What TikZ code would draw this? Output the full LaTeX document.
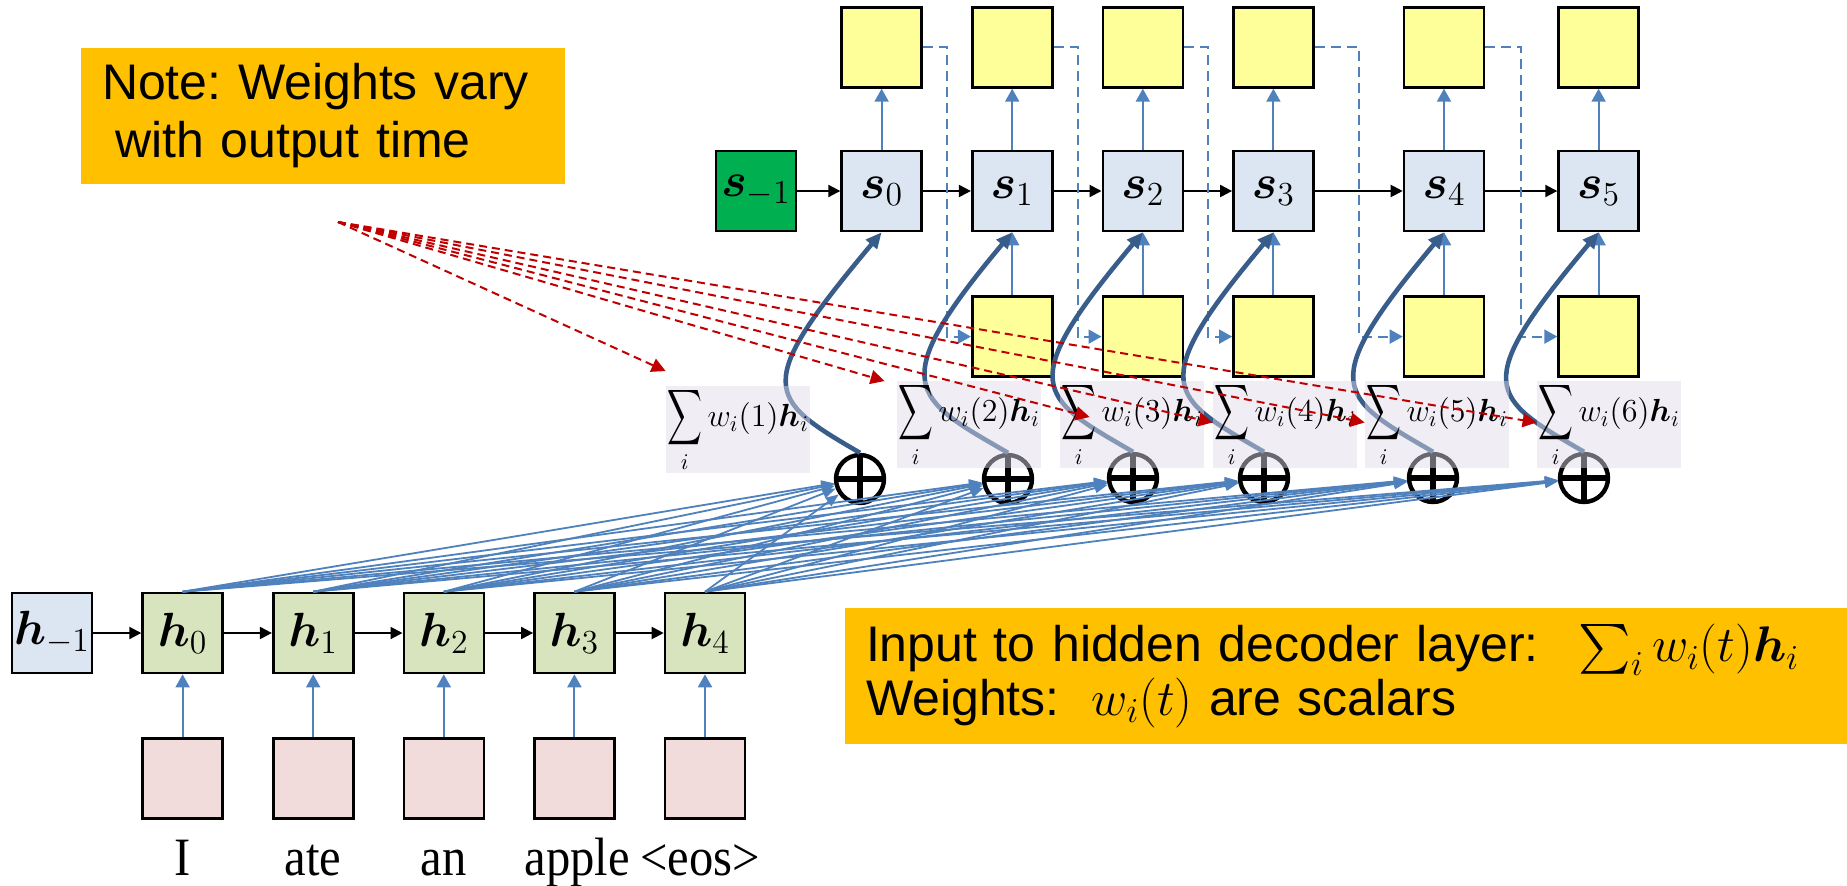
\RequirePackage{fix-cm}
\documentclass[tikz,border=0pt]{standalone}
\usepackage[no-math]{fontspec}
\setmainfont{Liberation Serif}
\newfontfamily\notefont{Liberation Sans}
\newfontfamily\wordfont[FakeStretch=0.9]{Liberation Serif}
\usepackage{amsmath}
\usepackage{tikz}
\usetikzlibrary{arrows.meta, positioning, calc}
\frenchspacing
\definecolor{stateblue}{RGB}{220,230,242}
\definecolor{initgreen}{RGB}{0,176,80}
\definecolor{hiddengreen}{RGB}{215,228,189}
\definecolor{embedpink}{RGB}{242,220,219}
\definecolor{outyellow}{RGB}{255,255,153}
\definecolor{notegold}{RGB}{255,192,0}
\definecolor{linkblue}{RGB}{79,129,189}
\definecolor{curveblue}{RGB}{56,93,138}
\definecolor{weightred}{RGB}{192,0,0}
\definecolor{sumgray}{RGB}{223,219,232}
\newcommand{\wsum}[1]{%
  \mathop{\scalebox{0.7}[1.12]{$\displaystyle\sum$}}\limits_i w_i(#1)\boldsymbol{h}_i}
\tikzset{
  cell/.style={
    rectangle, draw=black, line width=1.3pt,
    minimum width=40pt, minimum height=40pt, inner sep=0pt,
    font=\fontsize{24}{28}\selectfont
  },
  state/.style={cell, fill=stateblue},
  initstate/.style={cell, fill=initgreen},
  hidden/.style={cell, fill=hiddengreen},
  embed/.style={cell, fill=embedpink},
  outbox/.style={cell, fill=outyellow},
  word/.style={anchor=base, font=\wordfont\fontsize{27}{29}\selectfont},
  note/.style={
    rectangle, fill=notegold, inner xsep=10.5pt,
    minimum height=68pt, align=left,
    font=\notefont\fontsize{25}{29}\selectfont
  },
  weighted/.style={
    rectangle, fill=sumgray, fill opacity=0.47, text opacity=1,
    minimum width=72pt, minimum height=41.5pt, inner xsep=0pt, inner ysep=0pt,
    font=\fontsize{16}{18}\selectfont
  },
  oplus/.style={
    circle, draw=black, fill=white, line width=2.2pt,
    minimum size=24pt, inner sep=0pt,
    path picture={
      \draw[line width=2.6pt]
        (path picture bounding box.north) -- (path picture bounding box.south)
        (path picture bounding box.west) -- (path picture bounding box.east);
    }
  },
  arrow/.style={line width=1pt, -{Triangle[length=6pt, width=6pt]}, color=black},
  uparrow/.style={line width=1pt, -{Triangle[length=6.5pt, width=7pt]}, color=linkblue},
  fan/.style={line width=0.9pt, -{Triangle[length=6.5pt, width=5pt]}, color=linkblue},
  attn/.style={line width=2.3pt, -{Triangle[length=8pt, width=7pt]}, color=curveblue},
  feedback/.style={
    line width=1pt, dash pattern=on 5pt off 3pt,
    -{Triangle[length=6.5pt, width=7pt]}, color=linkblue
  },
  weight/.style={
    line width=1pt, dash pattern=on 4pt off 2.5pt,
    -{Triangle[length=7pt, width=7pt]}, color=weightred
  },
}

\begin{document}
\begin{tikzpicture}[x=0.5pt, y=-0.5pt]
  \useasboundingbox (0,0) rectangle (1847,885);

  \node (note) [note, minimum width=242pt, text width=221pt] at (323,116)
    {Note: Weights vary\\\hspace*{6.5pt}with output time};
  \node (info) [note, minimum width=501pt, text width=480pt,
    font=\notefont\fontsize{25}{25}\selectfont] at (1346,676)
    {Input to hidden decoder layer:\hspace{20pt}$\sum_i w_i(t)\boldsymbol{h}_i$\\
     Weights:\hspace{16pt}$w_i(t)$ are scalars};

  \node (sm1) [initstate] at (756,191) {$\boldsymbol{s}_{-1}$};
  \node (s0)  [state, right=21.5pt of sm1] {$\boldsymbol{s}_0$};
  \node (s1)  [state, right=24pt of s0]    {$\boldsymbol{s}_1$};
  \node (s2)  [state, right=24pt of s1]    {$\boldsymbol{s}_2$};
  \node (s3)  [state, right=24pt of s2]    {$\boldsymbol{s}_3$};
  \node (s4)  [state, right=44pt of s3]    {$\boldsymbol{s}_4$};
  \node (s5)  [state, right=36pt of s4]    {$\boldsymbol{s}_5$};

  \node (y0) [outbox, above=30.5pt of s0] {};
  \node (y1) [outbox, above=30.5pt of s1] {};
  \node (y2) [outbox, above=30.5pt of s2] {};
  \node (y3) [outbox, above=30.5pt of s3] {};
  \node (y4) [outbox, above=30.5pt of s4] {};
  \node (y5) [outbox, above=30.5pt of s5] {};

  \node (x1) [outbox, below=31.5pt of s1] {};
  \node (x2) [outbox, below=31.5pt of s2] {};
  \node (x3) [outbox, below=31.5pt of s3] {};
  \node (x4) [outbox, below=31.5pt of s4] {};
  \node (x5) [outbox, below=31.5pt of s5] {};

  \node (hm1) [state] at (52,633)        {$\boldsymbol{h}_{-1}$};
  \node (h0)  [hidden, right=24pt of hm1] {$\boldsymbol{h}_0$};
  \node (h1)  [hidden, right=24pt of h0]  {$\boldsymbol{h}_1$};
  \node (h2)  [hidden, right=24pt of h1]  {$\boldsymbol{h}_2$};
  \node (h3)  [hidden, right=24pt of h2]  {$\boldsymbol{h}_3$};
  \node (h4)  [hidden, right=24pt of h3]  {$\boldsymbol{h}_4$};

  \node (e0) [embed, below=31.5pt of h0] {};
  \node (e1) [embed, below=31.5pt of h1] {};
  \node (e2) [embed, below=31.5pt of h2] {};
  \node (e3) [embed, below=31.5pt of h3] {};
  \node (e4) [embed, below=31.5pt of h4] {};

  \node (w0) [below=28pt of e0.south, word] {I};
  \node (w1) [below=28pt of e1.south, word] {ate};
  \node (w2) [below=28pt of e2.south, word] {an};
  \node (w3) [below=28pt of e3.south, word, xshift=1.5pt] {apple};
  \node (w4) [below=28pt of e4.south, word, xshift=-2.5pt] {\textless eos\textgreater};

  \node (c1) [oplus] at (860,479)  {};
  \node (c2) [oplus] at (1008,479) {};
  \node (c3) [oplus] at (1133,478) {};
  \node (c4) [oplus] at (1264,478) {};
  \node (c5) [oplus] at (1433,478) {};
  \node (c6) [oplus] at (1584,478) {};

  \draw [arrow] (sm1) -- (s0);
  \draw [arrow] (s0) -- (s1);
  \draw [arrow] (s1) -- (s2);
  \draw [arrow] (s2) -- (s3);
  \draw [arrow] (s3) -- (s4);
  \draw [arrow] (s4) -- (s5);
  \draw [arrow] (hm1) -- (h0);
  \draw [arrow] (h0) -- (h1);
  \draw [arrow] (h1) -- (h2);
  \draw [arrow] (h2) -- (h3);
  \draw [arrow] (h3) -- (h4);

  \draw [uparrow] (s0) -- (y0);
  \draw [uparrow] (s1) -- (y1);
  \draw [uparrow] (s2) -- (y2);
  \draw [uparrow] (s3) -- (y3);
  \draw [uparrow] (s4) -- (y4);
  \draw [uparrow] (s5) -- (y5);
  \draw [uparrow] (x1) -- (s1);
  \draw [uparrow] (x2) -- (s2);
  \draw [uparrow] (x3) -- (s3);
  \draw [uparrow] (x4) -- (s4);
  \draw [uparrow] (x5) -- (s5);
  \draw [uparrow] (e0) -- (h0);
  \draw [uparrow] (e1) -- (h1);
  \draw [uparrow] (e2) -- (h2);
  \draw [uparrow] (e3) -- (h3);
  \draw [uparrow] (e4) -- (h4);

  \draw [feedback] (y0.east) -- ($(y0.east)!.5!(y1.west)$) |- (x1.west);
  \draw [feedback] (y1.east) -- ($(y1.east)!.5!(y2.west)$) |- (x2.west);
  \draw [feedback] (y2.east) -- ($(y2.east)!.5!(y3.west)$) |- (x3.west);
  \draw [feedback] (y3.east) -- ($(y3.east)!.5!(y4.west)$) |- (x4.west);
  \draw [feedback] (y4.east) -- ($(y4.east)!.5!(y5.west)$) |- (x5.west);

  \foreach \i in {0,...,4}
    \foreach \t in {1,...,6}
      \draw [fan] (h\i.north) -- (c\t);

  \foreach \t/\s in {1/0, 2/1, 3/2, 4/3, 5/4, 6/5}
    \draw [attn] (c\t.north) .. controls +(150:55pt) and +(230:100pt) .. (s\s.south);

  \node (m1) [weighted] at (738,429.5)  {$\wsum{1}$};
  \node (m2) [weighted] at (969,424.5)  {$\wsum{2}$};
  \node (m3) [weighted] at (1132,424.5) {$\wsum{3}$};
  \node (m4) [weighted] at (1285,424.5) {$\wsum{4}$};
  \node (m5) [weighted] at (1437,424.5) {$\wsum{5}$};
  \node (m6) [weighted] at (1609,424.5) {$\wsum{6}$};

  \coordinate (src) at (338,222);
  \draw [weight] (src) -- ([yshift=7.5pt]m1.north west);
  \draw [weight] (src) -- ([xshift=-6pt]m2.north west);
  \draw [weight] (src) -- ([xshift=15pt, yshift=3.75pt]m3.west);
  \draw [weight] (src) -- ([yshift=1pt]m4.west);
  \draw [weight] (src) -- ([yshift=1pt]m5.west);
  \draw [weight] (src) -- ([yshift=1pt]m6.west);
\end{tikzpicture}
\end{document}
